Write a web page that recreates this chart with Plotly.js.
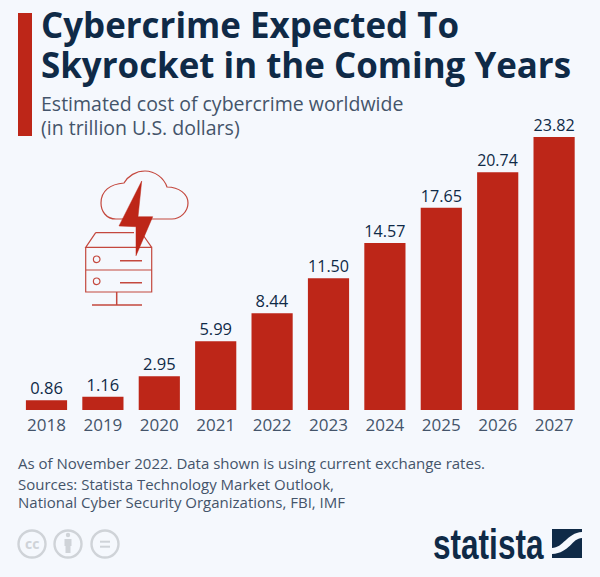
<!DOCTYPE html>
<html><head><meta charset="utf-8">
<script src="https://cdn.plot.ly/plotly-3.0.1.min.js"></script>
<style>html,body{margin:0;padding:0;background:#f5f8fd}</style></head>
<body><div id="chart" style="width:600px;height:577px"></div>
<script>
const years = ['2018','2019','2020','2021','2022','2023','2024','2025','2026','2027'];
const costs = [0.86,1.16,2.95,5.99,8.44,11.50,14.57,17.65,20.74,23.82];
const titleLines = ['Cybercrime Expected To','Skyrocket in the Coming Years'];
const subtitleLines = ['Estimated cost of cybercrime worldwide','(in trillion U.S. dollars)'];
const noteLines = ['As of November 2022. Data shown is using current exchange rates.','Sources: Statista Technology Market Outlook,','National Cyber Security Organizations, FBI, IMF'];
const W=600,H=577;
const RED='#bd2618', NAVY='#0f2a47', SLATE='#44546a', ICON='#c4483e', GREY='#cfd3d8';
const F='"Open Sans", sans-serif';
const px=x=>x/W, py=y=>1-y/H;
function txt(text,x,y,size,color,opts){return Object.assign({text,x:px(x),y:py(y),xref:'paper',yref:'paper',xanchor:'left',yanchor:'middle',showarrow:false,font:{family:F,size,color}},opts||{});}
function path(d,o){
  const tokens=d.match(/[MLCZ]|-?[\d.]+/g);let out='',isX=true;
  tokens.forEach(t=>{if(/[MLCZ]/.test(t)){out+=t;isX=true;}else{out+=(isX?px(+t):py(+t)).toFixed(5)+(isX?',':' ');isX=!isX;}});
  return Object.assign({type:'path',xref:'paper',yref:'paper',path:out,line:{color:ICON,width:1.2}},o||{});
}
function circle(cx,cy,r,o){return Object.assign({type:'circle',xref:'paper',yref:'paper',x0:px(cx-r),x1:px(cx+r),y0:py(cy+r),y1:py(cy-r),line:{color:ICON,width:1.2}},o||{});}
function rect(x0,y0,x1,y1,color){return {type:'rect',xref:'paper',yref:'paper',x0:px(x0),x1:px(x1),y0:py(y1),y1:py(y0),fillcolor:color,line:{width:0}};}
const ringStyle={line:{color:GREY,width:2.4}};
const shapes=[
  rect(18,13,32,136,RED),
  path('M118 219 L116 219 C106 219 101 211 101 203 C101 191 110 184 124 183 C128 176 136 171 145 171 C155 171 164 178 167 187 C179 187 188 194 188 203 C188 212 180 219 172 219 L118 219 Z'),
  path('M95.7 232.7 L85.7 247.3 L151.7 247.3 L151.7 292 L85.7 292 L85.7 247.3 M95.7 232.7 L134 232.7 M143 235 L151.7 247.3 M85.7 270 L151.7 270'),
  path('M141.7 181 L119 226 L136 226.7 L136 255.7 L152.7 216.7 L138 216.7 Z',{fillcolor:RED,line:{color:RED,width:0.5}}),
  circle(96.7,259.3,3.3),circle(96.7,281.3,3.3),
  path('M120 260.7 L142 260.7 M120 282.7 L142 282.7',{line:{color:ICON,width:1.5}}),
  path('M116.7 292 L116.7 305 M92 305 L142 305',{line:{color:ICON,width:1.5}}),
  path('M552 529 L582 529 L582 532 C567 533 563 548 552 548 Z',{fillcolor:NAVY,line:{width:0}}),
  path('M582 538 C572 538 570 553 552 554 L552 558 L582 558 Z',{fillcolor:NAVY,line:{width:0}}),
  circle(32,544,13.5,ringStyle),circle(68,544,13.5,ringStyle),circle(105,544,13.5,ringStyle),
  circle(68,535,2.2,{fillcolor:GREY,line:{width:0}}),
  rect(64.5,539,71.5,546,GREY),rect(65.5,546,70.5,553,GREY),
  rect(100,540.7,110,542.7,GREY),rect(100,545.7,110,547.7,GREY)
];
const annotations=[
  txt(titleLines[0],39,25,35,NAVY,{font:{family:F,size:34.9,color:NAVY,weight:700}}),
  txt(titleLines[1],39,64.5,35,NAVY,{font:{family:F,size:34.9,color:NAVY,weight:700}}),
  txt(subtitleLines[0],38.5,103.5,19.5,SLATE),
  txt(subtitleLines[1],38.5,127.5,19.5,SLATE),
  txt(noteLines[0],16,462.5,15,SLATE),
  txt(noteLines[1],16,484,15,SLATE),
  txt(noteLines[2],16,501.5,15,SLATE),
  txt('cc',32,543.5,13,GREY,{xanchor:'center',font:{family:F,size:14,color:GREY,weight:700}}),
  txt('statista',431,544,42,NAVY,{font:{family:'"Liberation Sans", sans-serif',size:42,color:NAVY,weight:700}})
];
Plotly.newPlot('chart',[{
  type:'bar',x:years,y:costs,
  marker:{color:RED,line:{width:0}},
  text:costs.map(v=>v.toFixed(2)),textposition:'outside',cliponaxis:false,
  textfont:{family:F,size:16.5,color:NAVY},hoverinfo:'none'
}],{
  width:W,height:H,margin:{l:0,r:0,t:0,b:0},showlegend:false,
  paper_bgcolor:'#f5f8fd',plot_bgcolor:'rgba(0,0,0,0)',bargap:0.27,
  xaxis:{domain:[18.3/W,582.3/W],type:'category',showgrid:false,zeroline:false,showline:false,ticks:'',
    tickfont:{family:F,size:17,color:SLATE},ticklen:0,ticklabelstandoff:3,automargin:false},
  yaxis:{domain:[1-410/H,1-110/H],range:[0,300/11.46],visible:false,fixedrange:true},
  shapes,annotations
},{displayModeBar:false,staticPlot:true}).then(gd=>{
  // narrow the wordmark: the condensed face is not installed
  gd.querySelectorAll('.annotation-text').forEach(t=>{
    if(t.textContent==='statista'){
      const b=t.getBBox(),sx=111/b.width;
      t.setAttribute('transform','translate('+b.x+',0) scale('+sx+',1) translate('+(-b.x)+',0)');
    }
  });
  // sit the value labels slightly closer to their bars
  gd.querySelectorAll('.bartext').forEach(t=>{
    t.setAttribute('transform','translate(0,2) '+(t.getAttribute('transform')||''));
  });
});
</script></body></html>
